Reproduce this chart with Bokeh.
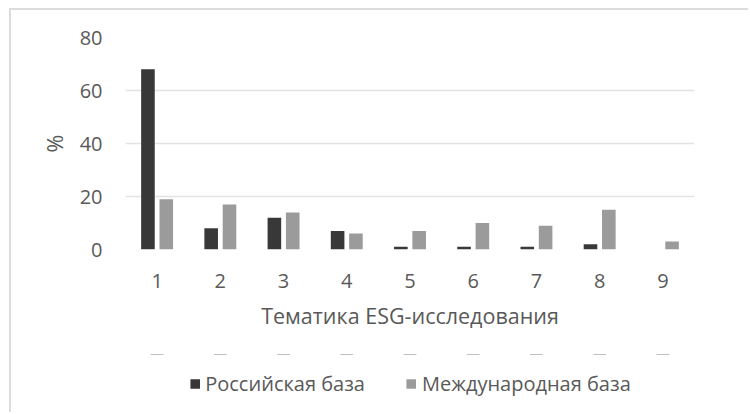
from bokeh.plotting import figure
from bokeh.models import ColumnDataSource, FactorRange, Legend, LegendItem, Range1d
from bokeh.layouts import column
from bokeh.transform import dodge
from bokeh.embed import file_html
from bokeh.resources import INLINE

categories = ["1", "2", "3", "4", "5", "6", "7", "8", "9"]
russian = [68, 8, 12, 7, 1, 1, 1, 2, 0]
international = [19, 17, 14, 6, 7, 10, 9, 15, 3]
y_ticks = [0, 20, 40, 60, 80]
series_names = ["Российская база", "Международная база"]

FONT = "Open Sans"
TXT = "#595959"
DARK = "#383838"
LIGHT = "#9b9b9b"

src = ColumnDataSource(dict(cat=categories, ru=russian, intl=international))

p = figure(x_range=FactorRange(*categories, range_padding=0), y_range=(0, 80),
           width=739, height=334,
           min_border_left=114, min_border_right=17, min_border_top=27, min_border_bottom=95,
           output_backend="svg", toolbar_location=None)
p.styles = {"margin-left": "9px", "margin-top": "8px",
            "border-left": "2px solid #dcdcdc", "border-top": "2px solid #dcdcdc"}
p.outline_line_color = None
p.background_fill_color = "white"

p.vbar(x=dodge("cat", -0.145, range=p.x_range), top="ru", width=0.215, source=src,
       fill_color=DARK, line_color=None)
p.vbar(x=dodge("cat", 0.145, range=p.x_range), top="intl", width=0.215, source=src,
       fill_color=LIGHT, line_color=None)

p.xgrid.grid_line_color = None
p.ygrid.grid_line_color = "#e3e3e3"
p.ygrid.grid_line_width = 1.5
p.yaxis.ticker = y_ticks

for ax in (p.xaxis[0], p.yaxis[0]):
    ax.axis_line_color = None
    ax.major_tick_line_color = None
    ax.minor_tick_line_color = None
    ax.major_label_text_font = FONT
    ax.major_label_text_font_size = "20px"
    ax.major_label_text_color = TXT
    ax.axis_label_text_font = FONT
    ax.axis_label_text_font_size = "21.5px"
    ax.axis_label_text_color = TXT
    ax.axis_label_text_font_style = "normal"

p.yaxis.axis_label = "%"
p.yaxis.major_label_standoff = 17
p.yaxis.axis_label_standoff = 8
p.xaxis.axis_label = "Тематика ESG-исследования"
p.xaxis.major_label_standoff = 18
p.xaxis.axis_label_standoff = 10

# legend strip below the chart (same bordered box); its bars lie outside its visible range
p2 = figure(x_range=FactorRange(*categories), y_range=Range1d(-2, -1),
            width=739, height=70, x_axis_location=None, y_axis_location=None,
            min_border_left=0, min_border_right=56, min_border_top=12, min_border_bottom=0,
            output_backend="svg", toolbar_location=None)
p2.styles = {"margin-left": "9px", "border-left": "2px solid #dcdcdc"}
p2.outline_line_color = None
p2.grid.grid_line_color = None
k1 = p2.vbar(x="cat", top="ru", bottom=0, width=0.2, source=src, fill_color=DARK, line_color=None)
k2 = p2.vbar(x="cat", top="intl", bottom=0, width=0.2, source=src, fill_color=LIGHT, line_color=None)

legend = Legend(items=[LegendItem(label=series_names[0], renderers=[k1]),
                       LegendItem(label=series_names[1], renderers=[k2])],
                orientation="horizontal", location="center",
                label_text_font=FONT, label_text_font_size="20px", label_text_color=TXT,
                glyph_width=12, glyph_height=12, label_standoff=5, spacing=40,
                border_line_color=None, background_fill_alpha=0, margin=0, padding=0)
p2.add_layout(legend, "center")

layout = column(p, p2, spacing=0)
open("out.html", "w").write(file_html(layout, INLINE))
